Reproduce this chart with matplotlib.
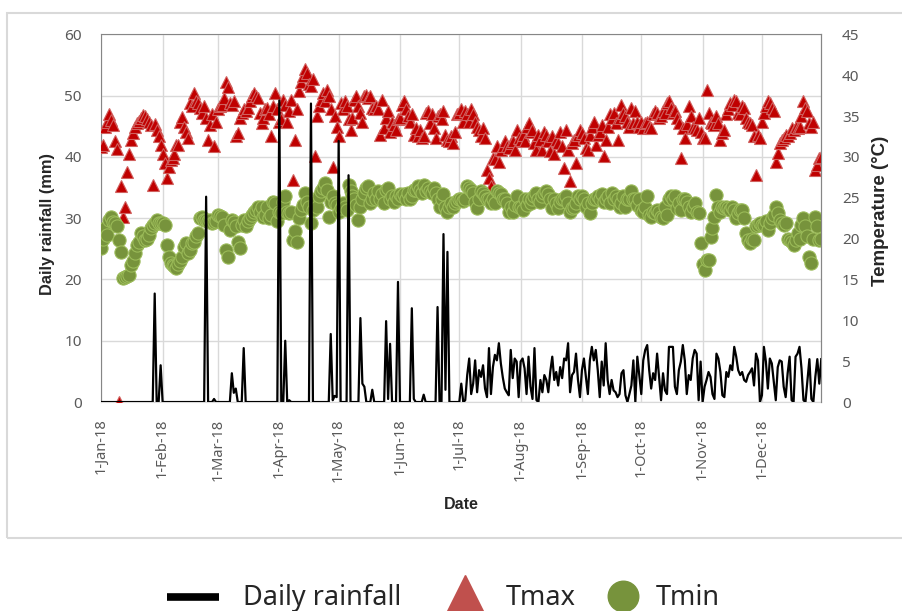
import numpy as np
import matplotlib.pyplot as plt
from matplotlib.lines import Line2D
from matplotlib.patches import Rectangle

plt.rcParams['font.family'] = ['Noto Sans', 'DejaVu Sans']
TITLE_FONT = ['Liberation Sans', 'DejaVu Sans']

# one value per day of 2018
days = np.arange('2018-01-01', '2019-01-01', dtype='datetime64[D]')
month_starts = np.arange('2018-01', '2019-01', dtype='datetime64[M]').astype('datetime64[D]')
month_labels = ['1-Jan-18', '1-Feb-18', '1-Mar-18', '1-Apr-18', '1-May-18', '1-Jun-18',
                '1-Jul-18', '1-Aug-18', '1-Sep-18', '1-Oct-18', '1-Nov-18', '1-Dec-18']

# daily rainfall (mm), one line per month
rain = [
    0, 0, 0, 0, 0, 0, 0, 0, 0, 0, 0, 0, 0, 0, 0, 0, 0, 0, 0, 0, 0, 0, 0, 0, 0, 0, 0, 17.7, 0, 0, 6.0,
    0, 0, 0, 0, 0, 0, 0, 0, 0, 0, 0, 0, 0, 0, 0, 0, 0, 0, 0, 0, 0, 0, 33.5, 0, 0, 0, 0.5, 0,
    0, 0, 0, 0, 0, 0, 0, 4.7, 1.5, 2.2, 0, 0, 0, 8.8, 0, 0, 0, 0, 0, 0, 0, 0, 0, 0, 0, 0, 0, 0, 0, 0, 0,
    49.2, 0, 0, 10.0, 0, 0.3, 0, 0, 0, 0, 0, 0, 0, 0, 0, 0, 48.7, 0, 0, 0, 0, 0, 0, 0, 0, 0, 11.1, 0.3, 1.0, 0.8,
    42.6, 0, 0, 0, 0, 37.0, 0, 0, 0, 0, 0, 13.7, 3.0, 2.5, 0, 0, 0, 2.0, 0, 0, 0, 0, 0, 0, 13.2, 0.5, 9.5, 0, 0, 0, 19.6,
    0, 0, 0, 0, 0, 0, 15.3, 0.5, 0, 0, 0, 0, 1.2, 0, 0, 0, 0, 0, 0, 15.5, 0, 0, 27.4, 2.0, 24.5, 0, 0, 0, 0, 0,
    0, 3.0, 0.0, 0.3, 4.4, 7.1, 1.3, 3.0, 6.8, 1.6, 5.2, 4.1, 6.0, 2.2, 0.8, 8.8, 1.3, 5.7, 7.7, 6.8, 9.6, 6.3, 4.0, 2.2, 1.6, 1.1, 8.5, 3.9, 7.1, 6.6, 0.8,
    6.6, 7.1, 5.5, 1.3, 7.4, 2.5, 0.5, 8.8, 0.3, 0.0, 3.6, 1.6, 4.4, 3.6, 1.6, 5.0, 7.4, 3.6, 4.9, 2.7, 5.7, 3.9, 7.1, 6.8, 9.6, 1.6, 4.4, 4.9, 7.9, 3.6, 0.8,
    5.2, 7.1, 4.1, 1.3, 6.8, 9.0, 6.8, 8.5, 5.2, 0.8, 6.6, 2.7, 9.6, 3.6, 1.3, 3.6, 1.9, 1.6, 0.8, 1.3, 4.7, 5.2, 1.1, 0.0, 1.3, 2.7, 6.8, 0.0, 7.4, 4.4,
    1.3, 6.8, 8.5, 9.3, 5.2, 2.2, 4.7, 3.6, 7.9, 4.1, 0.3, 4.7, 1.9, 1.3, 9.0, 9.0, 9.0, 2.5, 1.3, 5.2, 6.6, 9.3, 6.8, 1.3, 4.4, 3.6, 7.1, 8.5, 7.9, 0.3, 6.6,
    0.0, 2.5, 3.6, 4.9, 4.1, 1.3, 0.5, 7.9, 7.1, 4.9, 1.1, 0.8, 4.9, 4.1, 6.0, 5.2, 9.0, 7.4, 5.2, 4.4, 4.9, 3.6, 3.3, 4.4, 4.9, 5.5, 2.7, 7.9, 6.8, 0.0,
    1.1, 9.0, 6.6, 2.2, 7.1, 6.3, 3.3, 0.3, 5.7, 6.8, 6.6, 2.5, 0.8, 4.7, 7.4, 0.3, 0.0, 7.4, 7.9, 9.0, 5.5, 0.3, 0.0, 3.6, 7.0, 0.5, 0.0, 4.1, 7.0, 3.0, 7.0,
]

# daily maximum temperature (deg C)
tmax = [
    31.2, 31.5, 33.6, 34.3, 35.3, 34.5, 33.9, 32.0, 31.0, 0.0, 26.4, 22.7, 23.9, 28.2, 30.3, 32.1, 32.9, 33.7, 34.1, 34.4, 34.8, 35.1, 35.0, 34.6, 34.3, 33.9, 26.6, 34.0, 33.3, 32.5, 31.5,
    30.3, 29.2, 27.4, 28.8, 29.6, 29.8, 30.4, 31.5, 31.5, 34.3, 34.9, 33.7, 33.1, 32.3, 36.6, 36.2, 37.8, 36.8, 36.6, 36.0, 35.4, 36.2, 34.8, 32.1, 33.9, 35.2, 31.3, 34.3,
    35.8, 36.2, 36.4, 37.2, 39.1, 38.5, 36.6, 36.4, 36.8, 32.5, 32.9, 34.8, 35.4, 35.8, 35.6, 36.0, 36.8, 37.4, 37.8, 37.4, 37.2, 35.4, 34.1, 34.8, 35.8, 36.0, 35.2, 32.5, 36.2, 37.8, 35.8,
    34.3, 34.6, 37.0, 36.4, 34.3, 35.6, 37.0, 27.2, 32.1, 35.8, 38.0, 39.1, 39.9, 40.7, 40.3, 38.9, 38.7, 39.5, 30.1, 35.0, 36.2, 37.0, 37.8, 36.8, 38.2, 37.4, 35.8, 28.8, 35.0, 33.7,
    32.5, 36.6, 35.8, 36.8, 36.2, 34.6, 33.3, 34.8, 37.0, 37.4, 36.2, 35.4, 34.3, 37.4, 37.6, 37.2, 37.4, 36.0, 35.8, 36.2, 35.8, 32.7, 37.0, 33.5, 34.8, 35.6, 33.1, 34.3, 33.9, 33.3, 34.6,
    34.8, 36.4, 36.8, 35.8, 35.0, 34.3, 35.2, 32.7, 33.5, 32.5, 33.3, 32.3, 32.5, 35.4, 35.6, 34.1, 35.2, 33.5, 32.3, 35.0, 35.2, 34.6, 35.6, 32.7, 32.1, 31.9, 32.5, 31.7, 33.1, 35.2,
    35.4, 35.8, 34.3, 35.6, 35.2, 34.3, 35.8, 35.2, 34.3, 33.7, 33.3, 32.5, 33.5, 32.3, 28.4, 27.4, 26.4, 29.9, 29.7, 31.3, 29.4, 30.9, 31.3, 31.9, 31.3, 31.1, 31.7, 31.9, 30.9, 33.3, 32.3,
    32.1, 32.7, 31.9, 33.7, 34.1, 33.1, 33.3, 31.7, 30.9, 32.7, 32.1, 30.9, 33.1, 32.7, 31.9, 30.7, 32.5, 30.3, 32.1, 31.7, 33.1, 31.3, 28.6, 33.3, 30.9, 27.0, 31.7, 32.1, 29.2, 32.7, 33.3,
    32.9, 32.3, 31.1, 30.9, 32.7, 33.7, 34.3, 31.5, 32.7, 33.1, 33.9, 30.1, 32.1, 33.7, 35.2, 34.8, 35.4, 34.1, 32.1, 34.8, 36.4, 35.4, 35.0, 34.3, 33.7, 36.0, 34.1, 35.6, 34.3, 33.7,
    34.3, 33.5, 34.1, 34.3, 33.7, 33.5, 35.2, 35.6, 35.4, 34.8, 35.0, 35.6, 35.4, 36.6, 36.8, 36.0, 35.4, 35.6, 34.8, 34.1, 29.9, 33.5, 32.3, 34.0, 36.2, 35.0, 33.7, 33.5, 33.3, 34.8, 33.1,
    32.3, 32.3, 38.2, 35.4, 34.3, 34.1, 33.9, 35.0, 34.1, 32.1, 32.9, 33.3, 35.2, 35.8, 36.6, 36.4, 37.0, 36.8, 35.4, 35.2, 36.2, 36.0, 34.8, 34.3, 34.1, 33.9, 32.5, 27.8, 32.7, 32.3,
    34.3, 35.4, 36.2, 36.8, 36.6, 36.0, 35.6, 29.4, 30.5, 31.7, 32.1, 32.3, 32.7, 32.5, 32.9, 33.5, 33.3, 33.7, 33.5, 33.7, 35.0, 36.8, 36.0, 35.6, 34.1, 33.7, 34.3, 28.4, 29.0, 29.9, 30.0,
]

# daily minimum temperature (deg C)
tmin = [
    18.8, 20.0, 21.3, 20.5, 22.3, 22.7, 22.0, 21.9, 21.5, 19.8, 18.4, 15.2, 15.3, 15.4, 15.5, 16.8, 17.2, 18.2, 19.2, 19.6, 20.7, 20.3, 19.8, 20.0, 20.4, 21.3, 21.7, 21.9, 22.3, 21.9, 21.9,
    21.9, 21.7, 19.2, 17.8, 17.0, 16.8, 16.6, 16.4, 16.9, 17.2, 17.8, 19.0, 19.4, 18.2, 18.6, 19.4, 19.6, 20.3, 20.7, 22.5, 22.7, 22.3, 22.3, 22.1, 22.3, 21.9, 22.0, 22.1,
    22.9, 22.8, 22.7, 21.7, 18.6, 17.8, 21.1, 22.3, 22.0, 21.5, 19.6, 18.8, 21.7, 22.3, 21.5, 22.1, 22.5, 22.9, 23.3, 23.5, 23.9, 23.3, 23.9, 22.7, 22.9, 23.9, 22.5, 22.9, 24.5, 24.3, 22.1,
    23.3, 23.1, 24.5, 25.2, 23.3, 23.1, 23.3, 19.8, 20.9, 19.6, 22.5, 23.5, 24.1, 25.6, 24.5, 23.9, 21.9, 23.5, 24.3, 23.9, 25.2, 25.8, 26.2, 26.8, 26.0, 22.7, 24.5, 25.2, 24.3, 24.1,
    23.3, 23.8, 24.3, 23.9, 23.5, 26.6, 25.8, 25.2, 24.8, 24.1, 22.3, 23.9, 24.8, 25.6, 26.2, 26.4, 24.3, 24.8, 25.6, 24.8, 25.8, 24.8, 25.4, 24.3, 26.0, 26.2, 24.8, 25.2, 24.5, 25.2, 24.8,
    25.4, 25.2, 25.4, 24.8, 25.6, 24.8, 25.2, 26.0, 26.0, 26.4, 26.0, 25.6, 26.6, 25.8, 26.2, 25.8, 25.6, 26.2, 25.6, 24.8, 23.9, 24.8, 25.4, 23.9, 23.3, 23.9, 24.3, 23.9, 24.3, 24.6,
    24.8, 24.8, 24.6, 24.8, 26.4, 26.2, 26.0, 25.6, 24.5, 23.7, 24.9, 25.8, 25.6, 25.2, 24.8, 24.9, 24.3, 24.9, 24.3, 25.8, 25.6, 25.4, 24.8, 24.9, 24.3, 23.3, 23.9, 23.3, 24.1, 25.2, 23.9,
    23.9, 23.5, 24.8, 24.1, 24.8, 24.3, 24.9, 25.2, 25.6, 24.9, 24.5, 25.2, 25.6, 25.8, 25.4, 24.8, 23.7, 24.8, 24.3, 23.7, 24.5, 24.9, 24.8, 25.2, 24.3, 23.3, 23.7, 23.9, 24.3, 25.2, 24.8,
    25.2, 24.8, 23.9, 24.3, 23.1, 24.3, 24.8, 24.9, 25.2, 24.8, 25.4, 24.5, 24.8, 25.2, 24.3, 25.6, 24.8, 25.2, 24.9, 23.9, 24.3, 25.2, 23.9, 24.9, 24.8, 25.8, 24.8, 24.9, 24.1, 24.8,
    23.5, 23.3, 23.9, 25.2, 22.9, 22.7, 23.3, 23.1, 23.5, 23.3, 22.7, 22.5, 23.9, 22.9, 24.9, 25.2, 24.8, 25.2, 23.7, 24.3, 23.5, 24.8, 24.9, 24.5, 23.9, 23.3, 23.9, 24.3, 23.3, 23.1, 19.4,
    16.9, 16.2, 17.4, 17.4, 20.2, 21.3, 22.7, 25.3, 23.9, 23.3, 23.9, 23.7, 23.9, 23.7, 23.5, 23.9, 23.5, 22.5, 23.1, 23.5, 23.5, 22.5, 20.7, 19.8, 19.4, 20.0, 19.8, 21.5, 21.7, 21.9,
    21.7, 21.7, 22.1, 21.1, 21.9, 22.5, 22.9, 23.9, 23.1, 22.3, 21.9, 21.7, 21.9, 20.0, 19.8, 19.6, 19.2, 19.8, 20.7, 20.0, 21.7, 22.5, 21.5, 20.3, 17.8, 17.0, 20.0, 22.7, 21.5, 19.8, 20.0,
]

TICK_COLOR = '#595959'
FRAME_COLOR = '#868686'
GRID_COLOR = '#d9d9d9'
LABEL_COLOR = '#262626'
W, H = 902, 611

fig = plt.figure(figsize=(W / 100, H / 100), dpi=100)

# light border round the chart block (legend sits outside it)
fig.patches.append(Rectangle((7 / W, 1 - 538 / H), 1.1, (538 - 13) / H,
                             transform=fig.transFigure, fill=False,
                             edgecolor=GRID_COLOR, linewidth=1.5))

ax = fig.add_axes([0.1123, 0.342, 0.7982, 0.6019])
ax_t = ax.twinx()   # temperature markers
ax_r = ax.twinx()   # rainfall line, drawn on top of the markers

# rainfall scale, grid and frame live on the bottom axes
ax.set_xlim(days[0], days[-1])
ax.set_ylim(0, 60)
ax.set_yticks(range(0, 61, 10))
ax.set_xticks(month_starts)
ax.set_xticklabels(month_labels, rotation=90)
ax.grid(True, color=GRID_COLOR, linewidth=1.0)
ax.set_axisbelow(True)
ax.tick_params(axis='y', length=0, pad=14, labelsize=11, labelcolor=TICK_COLOR)
ax.tick_params(axis='x', length=0, pad=12, labelsize=10.5, labelcolor=TICK_COLOR)
for side in ax.spines.values():
    side.set_color(FRAME_COLOR)
ax.spines['bottom'].set_color(GRID_COLOR)

ax.set_ylabel('Daily rainfall (mm)', fontsize=11.8, fontweight='bold',
              color=LABEL_COLOR, family=TITLE_FONT)
ax.yaxis.set_label_coords(-0.064, 0.485)
ax.set_xlabel('Date', fontsize=11.5, fontweight='bold', color=LABEL_COLOR, family=TITLE_FONT)
ax.xaxis.set_label_coords(0.4996, -0.258)

# temperatures
ax_t.plot(days, tmax, ls='none', marker='^', ms=9, mfc='#c00000', mec='#d0605e', mew=0.8)
ax_t.plot(days, tmin, ls='none', marker='o', ms=9.5, mfc='#77933c', mec='#9bbb59', mew=0.8)
ax_t.set_ylim(0, 45)
ax_t.set_yticks(range(0, 46, 5))
ax_t.tick_params(axis='y', length=0, pad=15, labelsize=11, labelcolor=TICK_COLOR)
for name, side in ax_t.spines.items():
    side.set_visible(name == 'right')
    side.set_color(FRAME_COLOR)
ax_t.set_ylabel('Temperature (\u00b0C)', fontsize=13.5, fontweight='bold',
                color=LABEL_COLOR, family=TITLE_FONT)
ax_t.yaxis.set_label_coords(1.071, 0.52)

# rainfall
ax_r.plot(days, rain, color='black', linewidth=1.6)
ax_r.set_ylim(0, 60)
ax_r.set_yticks([])
for side in ax_r.spines.values():
    side.set_visible(False)


# legend row under the chart block
def fx(px):
    return px / W


def fy(px):
    return 1 - px / H


fig.add_artist(Line2D([fx(167), fx(219)], [fy(597), fy(597)], color='black',
                      linewidth=5.5, solid_capstyle='butt'))
fig.add_artist(Line2D([fx(465)], [fy(597)], marker='^', ms=32, ls='none', color='#c0504d'))
fig.add_artist(Line2D([fx(623)], [fy(596)], marker='o', ms=22, ls='none', color='#77933c'))
for x0, label in [(243, 'Daily rainfall'), (506, 'Tmax'), (656, 'Tmin')]:
    fig.text(fx(x0), fy(605), label, fontsize=19.5, color=LABEL_COLOR,
             ha='left', va='baseline')

fig.savefig('out.png', dpi=100)
